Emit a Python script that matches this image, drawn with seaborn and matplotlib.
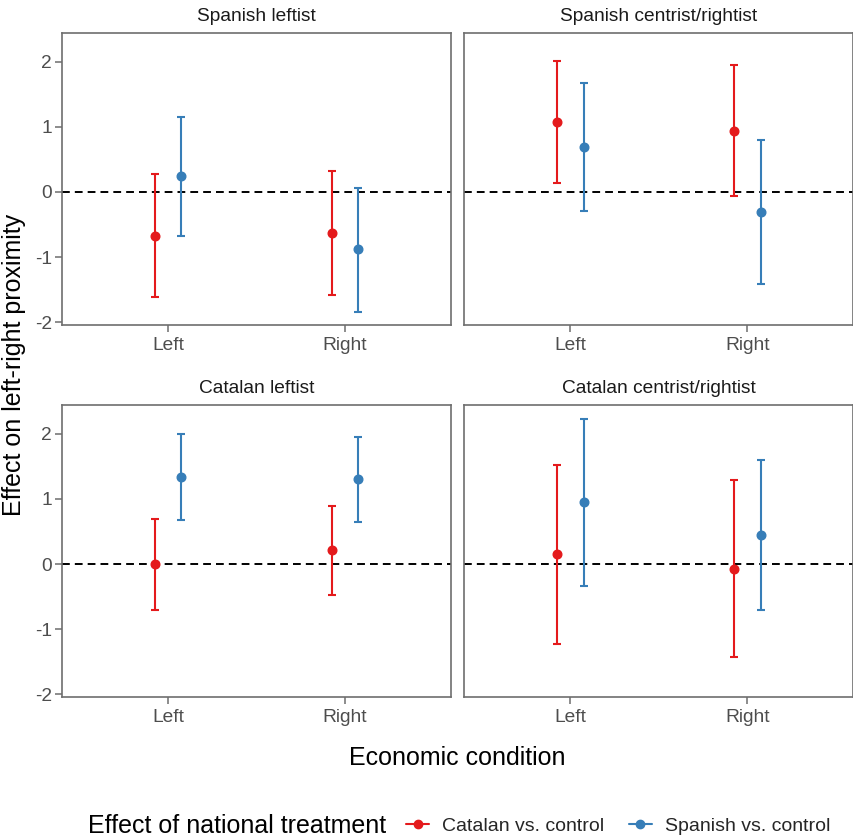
import numpy as np
import pandas as pd
import seaborn as sns
import matplotlib.pyplot as plt
from matplotlib.lines import Line2D

# ---------------- data ----------------
groups = ["Spanish leftist", "Spanish centrist/rightist",
          "Catalan leftist", "Catalan centrist/rightist"]
conditions = ["Left", "Right"]
treatments = ["Catalan vs. control", "Spanish vs. control"]

# order within each group: (Catalan, Left), (Catalan, Right), (Spanish, Left), (Spanish, Right)
panel = [g for g in groups for _ in range(4)]
treatment = [t for _ in groups for t in treatments for _c in conditions]
condition = [c for _ in groups for _t in treatments for c in conditions]

estimate = [-0.67, -0.63, 0.24, -0.88,
            1.07, 0.94, 0.69, -0.31,
            0.00, 0.21, 1.33, 1.30,
            0.15, -0.07, 0.95, 0.44]
lower = [-1.61, -1.585, -0.67, -1.84,
         0.13, -0.07, -0.29, -1.42,
         -0.70, -0.48, 0.67, 0.64,
         -1.22, -1.43, -0.33, -0.71]
upper = [0.27, 0.32, 1.15, 0.06,
         2.01, 1.95, 1.67, 0.79,
         0.69, 0.89, 2.00, 1.95,
         1.52, 1.29, 2.23, 1.59]

df = pd.DataFrame({"group": panel, "treatment": treatment, "condition": condition,
                   "estimate": estimate, "lower": lower, "upper": upper})

colors = {"Catalan vs. control": "#E41A1C", "Spanish vs. control": "#377EB8"}
offsets = {"Catalan vs. control": -0.075, "Spanish vs. control": 0.075}

# ---------------- style ----------------
sns.set_theme(style="white")
plt.rcParams['font.family'] = ['Liberation Sans', 'DejaVu Sans']

g = sns.FacetGrid(df, col="group", col_wrap=2, col_order=groups,
                  sharex=False, sharey=True, despine=False, height=4, aspect=1)


def draw(data, **kws):
    ax = plt.gca()
    for t in treatments:
        d = data[data["treatment"] == t]
        x = d["condition"].map({c: i for i, c in enumerate(conditions)}) + offsets[t]
        ax.errorbar(x, d["estimate"],
                    yerr=[d["estimate"] - d["lower"], d["upper"] - d["estimate"]],
                    fmt="o", color=colors[t], ms=6.2, elinewidth=1.5,
                    capsize=2.8, capthick=1.5, zorder=3)


g.map_dataframe(draw)
g.set_titles("{col_name}")
g.set_axis_labels("", "")

fig = g.figure
fig.set_size_inches(8.54, 8.40)
fig.set_dpi(100)

lo = min(lower)
hi = max(upper)
pad = (hi - lo) * 0.05

W = 389.5 / 854
H = 291.8 / 840
positions = [
    (61.7 / 854, 1 - 325.1 / 840),
    (464.0 / 854, 1 - 325.1 / 840),
    (61.7 / 854, 1 - 697.3 / 840),
    (464.0 / 854, 1 - 697.3 / 840),
]

for i, ax in enumerate(g.axes.flat):
    ax.set_position([positions[i][0], positions[i][1], W, H])
    ax.axhline(0, color="black", lw=1.4, ls=(0, (4, 2.6)), zorder=2)
    ax.set_xlim(-0.6, 1.6)
    ax.set_ylim(lo - pad, hi + pad)
    ax.set_xticks(range(len(conditions)))
    ax.set_xticklabels(conditions)
    ax.set_yticks([-2, -1, 0, 1, 2])
    ax.set_yticklabels(["-2", "-1", "0", "1", "2"])
    for s in ax.spines.values():
        s.set_color("#6e6e6e")
        s.set_linewidth(1.2)
    ax.tick_params(axis="both", which="both", direction="out", length=5,
                   width=1.1, color="#6e6e6e", labelsize=13.8,
                   labelcolor="#4D4D4D")
    ax.tick_params(axis="x", bottom=True, labelbottom=True, pad=3.5)
    ax.tick_params(axis="y", left=True, pad=2)
    if i % 2 == 1:
        ax.tick_params(axis="y", left=False, labelleft=False)
    ax.set_title(groups[i], fontsize=13.8, color="#1A1A1A", pad=9)
    ax.grid(False)
    ax.set_facecolor("white")

fig.text(457.5 / 854, 1 - 758 / 840, "Economic condition", ha="center", va="center",
         fontsize=18, color="black")
fig.text(14 / 854, 1 - 365 / 840, "Effect on left-right proximity", ha="center",
         va="center", rotation=90, fontsize=18, color="black")

# legend
fig.text(88 / 854, 1 - 826 / 840, "Effect of national treatment", ha="left",
         va="center", fontsize=18, color="black")
handles = [Line2D([0], [0], color=colors[t], lw=1.5, marker="o", ms=6) for t in treatments]
fig.legend(handles, treatments, loc="center left",
           bbox_to_anchor=(406 / 854, 1 - 826 / 840), ncol=2, frameon=False,
           fontsize=14, handlelength=1.2, handletextpad=0.67, columnspacing=1.24,
           borderpad=0, borderaxespad=0)

fig.savefig("out.png", dpi=100)
